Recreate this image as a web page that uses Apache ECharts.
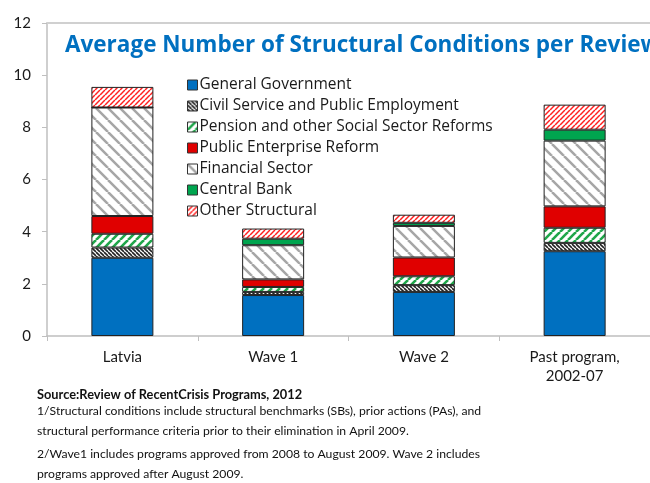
<!DOCTYPE html>
<html><head><meta charset="utf-8">
<script src="https://cdn.jsdelivr.net/npm/echarts@6/dist/echarts.min.js"></script>
<style>html,body{margin:0;padding:0;background:#fff;}#c{width:650px;height:483px;}</style>
</head><body><div id="c"></div>
<script>
const categories = ['Latvia', 'Wave 1', 'Wave 2', 'Past program,\n2002-07'];
const seriesNames = ['General Government', 'Civil Service and Public Employment', 'Pension and other Social Sector Reforms', 'Public Enterprise Reform', 'Financial Sector', 'Central Bank', 'Other Structural'];
const generalGov = [3.0, 1.57, 1.69, 3.25];
const civilService = [0.39, 0.12, 0.26, 0.32];
const pension = [0.53, 0.19, 0.34, 0.58];
const publicEnterprise = [0.68, 0.29, 0.72, 0.82];
const financial = [4.16, 1.31, 1.21, 2.52];
const centralBank = [0, 0.25, 0.12, 0.42];
const otherStructural = [0.79, 0.39, 0.31, 0.96];
const yTicks = [0, 2, 4, 6, 8, 10, 12];
const titleText = 'Average Number of Structural Conditions per Review';
const notes = [
  'Source:Review of RecentCrisis Programs, 2012',
  '1/Structural conditions include structural benchmarks (SBs), prior actions (PAs), and',
  'structural performance criteria prior to their elimination in April 2009.',
  '2/Wave1 includes programs approved from 2008 to August 2009. Wave 2 includes',
  'programs approved after August 2009.'
];

function stripes(bg, fg, size, lw, dir) {
  const c = document.createElement('canvas');
  c.width = size; c.height = size;
  const ctx = c.getContext('2d');
  ctx.fillStyle = bg; ctx.fillRect(0, 0, size, size);
  ctx.strokeStyle = fg; ctx.lineWidth = lw;
  for (const o of [-size, 0, size]) {
    ctx.beginPath();
    if (dir === '/') { ctx.moveTo(o, size); ctx.lineTo(o + size, 0); }
    else { ctx.moveTo(o, 0); ctx.lineTo(o + size, size); }
    ctx.stroke();
  }
  return { image: c, repeat: 'repeat' };
}

const fills = [
  '#0070C0',
  stripes('#ffffff', '#222222', 4, 1.6, '\\'),
  stripes('#ffffff', '#1FA64A', 8, 2.6, '/'),
  '#E00000',
  stripes('#ffffff', '#A6A6A6', 12, 2.5, '\\'),
  '#00A54F',
  stripes('#ffffff', '#FF2020', 5, 1.5, '/')
];
const dataSets = [generalGov, civilService, pension, publicEnterprise, financial, centralBank, otherStructural];

const font = 'Lato, "Open Sans", sans-serif';
const wideFont = '"Open Sans", Lato, sans-serif';
const chart = echarts.init(document.getElementById('c'), null, { renderer: 'canvas' });
chart.setOption({
  animation: false,
  backgroundColor: '#ffffff',
  title: {
    text: titleText, left: 60, top: 29,
    textStyle: { fontFamily: wideFont, fontWeight: 'bold', fontSize: 22.5, color: '#0070C0' }
  },
  legend: {
    orient: 'vertical', left: 182, top: 72, itemGap: 5,
    itemWidth: 10, itemHeight: 10, icon: 'rect',
    data: seriesNames,
    textStyle: { fontFamily: wideFont, fontSize: 15.5, color: '#1a1a1a', padding: [0, 0, 0, -3] },
    itemStyle: { borderColor: '#333', borderWidth: 1 }
  },
  grid: { left: 47, top: 23, width: 613, bottom: 147, containLabel: false },
  xAxis: [{
    type: 'category', data: categories,
    axisLine: { lineStyle: { color: '#BFBFBF', width: 1.5 } },
    axisTick: { show: true, length: 5, lineStyle: { color: '#BFBFBF' } },
    axisLabel: { fontFamily: font, fontSize: 15, color: '#1a1a1a', margin: 12, lineHeight: 19 }
  }, {
    type: 'category', data: categories, position: 'top',
    axisLine: { lineStyle: { color: '#D0D0D0', width: 2 } },
    axisTick: { show: false }, axisLabel: { show: false }
  }],
  yAxis: {
    type: 'value', min: 0, max: 12, interval: 2,
    axisLine: { show: true, lineStyle: { color: '#BFBFBF', width: 1.5 } },
    axisTick: { show: true, length: 5, lineStyle: { color: '#BFBFBF' } },
    splitLine: { show: false },
    axisLabel: { fontFamily: font, fontSize: 15, color: '#1a1a1a', margin: 16,
      formatter: v => yTicks.includes(v) ? String(v) : '' }
  },
  series: dataSets.map((d, i) => ({
    name: seriesNames[i], type: 'bar', stack: 'total', barWidth: 62,
    data: d,
    itemStyle: { color: fills[i], borderColor: '#222', borderWidth: 1 }
  })),
  graphic: notes.map((t, i) => ({
    type: 'text', left: 37, top: [388, 405, 425, 448, 468][i],
    style: { text: t, fontFamily: font, fontSize: i === 0 ? 12.8 : 12.2,
      fontWeight: i === 0 ? 'bold' : 'normal', fill: '#111' }
  }))
});
</script></body></html>
